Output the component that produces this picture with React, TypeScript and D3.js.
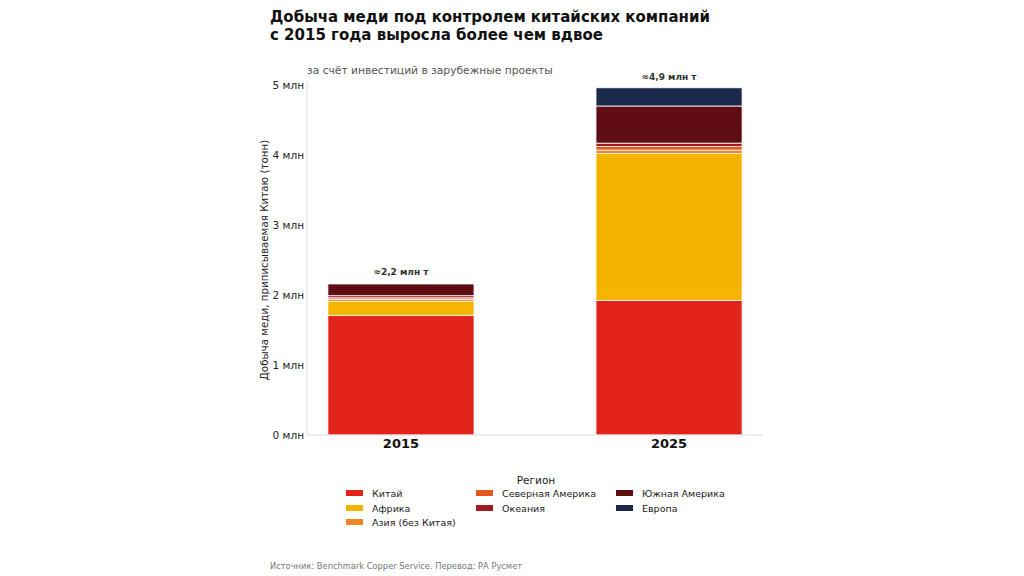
import React from "react";
import * as d3 from "d3";

// Years on the x axis
const years = ["2015", "2025"];

// Regions, stacked bottom to top
const regions = [
  "Китай",
  "Африка",
  "Азия (без Китая)",
  "Северная Америка",
  "Океания",
  "Южная Америка",
  "Европа",
];

const regionColors = [
  "#e2231c",
  "#f5b400",
  "#f08526",
  "#e8561f",
  "#a11c1f",
  "#5e0e13",
  "#1b2a4b",
];

// Copper output attributed to China, million tonnes, per region
const china = [1.71, 1.92];
const africa = [0.2, 2.1];
const asiaExChina = [0.03, 0.05];
const northAmerica = [0.02, 0.05];
const oceania = [0.03, 0.05];
const southAmerica = [0.17, 0.53];
const europe = [0.01, 0.26];

const totalLabels = ["≈2,2 млн т", "≈4,9 млн т"];
const yTicks = [0, 1, 2, 3, 4, 5];

const FONT = "'DejaVu Sans', sans-serif";

export default function App() {
  const W = 1024;
  const H = 576;
  const left = 307;
  const right = 763;
  const top = 85;
  const bottom = 435;

  const series = [china, africa, asiaExChina, northAmerica, oceania, southAmerica, europe];
  const rows = years.map((year, i) => {
    const r: Record<string, number | string> = { year };
    regions.forEach((reg, k) => (r[reg] = series[k][i]));
    return r;
  });
  const stacked = d3.stack<any>().keys(regions)(rows);

  const x = d3
    .scaleBand<string>()
    .domain(years)
    .range([left, right])
    .paddingInner(0.455)
    .paddingOuter(0.078);
  const y = d3.scaleLinear().domain([0, 5]).range([bottom, top]);

  const legendCols = [346, 476, 616];
  const legendRows = [493, 508, 522];
  const legendPos = [
    [0, 0],
    [0, 1],
    [0, 2],
    [1, 0],
    [1, 1],
    [2, 0],
    [2, 1],
  ];

  return (
    <svg width={W} height={H} style={{ display: "block", position: "absolute", left: 0, top: 0 }} fontFamily={FONT}>
      <rect width={W} height={H} fill="#fff" />
      <text x={270} y={22} fontSize={15} fontWeight="bold" fill="#111">
        Добыча меди под контролем китайских компаний
      </text>
      <text x={270} y={40} fontSize={15} fontWeight="bold" fill="#111">
        с 2015 года выросла более чем вдвое
      </text>
      <text x={307} y={74} fontSize={10.7} fill="#555">
        за счёт инвестиций в зарубежные проекты
      </text>

      {/* stacked bars */}
      {stacked.map((layer, k) => (
        <g key={regions[k]} fill={regionColors[k]}>
          {layer.map((d, i) => (
            <rect
              key={years[i]}
              x={x(years[i])}
              width={x.bandwidth()}
              y={y(d[1])}
              height={Math.max(0, y(d[0]) - y(d[1]))}
              stroke="#fff"
              strokeWidth={0.8}
            />
          ))}
        </g>
      ))}

      {/* totals above bars */}
      {years.map((yr, i) => {
        const total = stacked[stacked.length - 1][i][1];
        return (
          <text
            key={yr}
            x={(x(yr) as number) + x.bandwidth() / 2}
            y={y(total) - 8}
            textAnchor="middle"
            fontSize={9}
            fontWeight="bold"
            fill="#333"
          >
            {totalLabels[i]}
          </text>
        );
      })}

      {/* axes */}
      <line x1={left} x2={left} y1={82} y2={bottom} stroke="#ddd" strokeWidth={1} />
      <line x1={left} x2={right} y1={bottom} y2={bottom} stroke="#ddd" strokeWidth={1} />
      {yTicks.map((t) => (
        <text key={t} x={304} y={y(t) + 4} textAnchor="end" fontSize={10.5} fill="#222">
          {`${t} млн`}
        </text>
      ))}
      <text
        transform={`translate(268, ${(top + bottom) / 2}) rotate(-90)`}
        textAnchor="middle"
        fontSize={10.3}
        fill="#222"
      >
        Добыча меди, приписываемая Китаю (тонн)
      </text>
      {years.map((yr) => (
        <text
          key={yr}
          x={(x(yr) as number) + x.bandwidth() / 2}
          y={448}
          textAnchor="middle"
          fontSize={13}
          fontWeight="bold"
          fill="#111"
        >
          {yr}
        </text>
      ))}

      {/* legend */}
      <text x={536} y={484} textAnchor="middle" fontSize={10.5} fill="#222">
        Регион
      </text>
      {regions.map((reg, k) => {
        const [c, r] = legendPos[k];
        const lx = legendCols[c];
        const ly = legendRows[r];
        return (
          <g key={reg}>
            <rect x={lx} y={ly - 3} width={17} height={6} fill={regionColors[k]} />
            <text x={lx + 26} y={ly + 3.5} fontSize={9.5} fill="#222">
              {reg}
            </text>
          </g>
        );
      })}

      <text x={270} y={569} fontSize={8.3} fill="#777">
        Источник: Benchmark Copper Service. Перевод: РА Русмет
      </text>
    </svg>
  );
}
